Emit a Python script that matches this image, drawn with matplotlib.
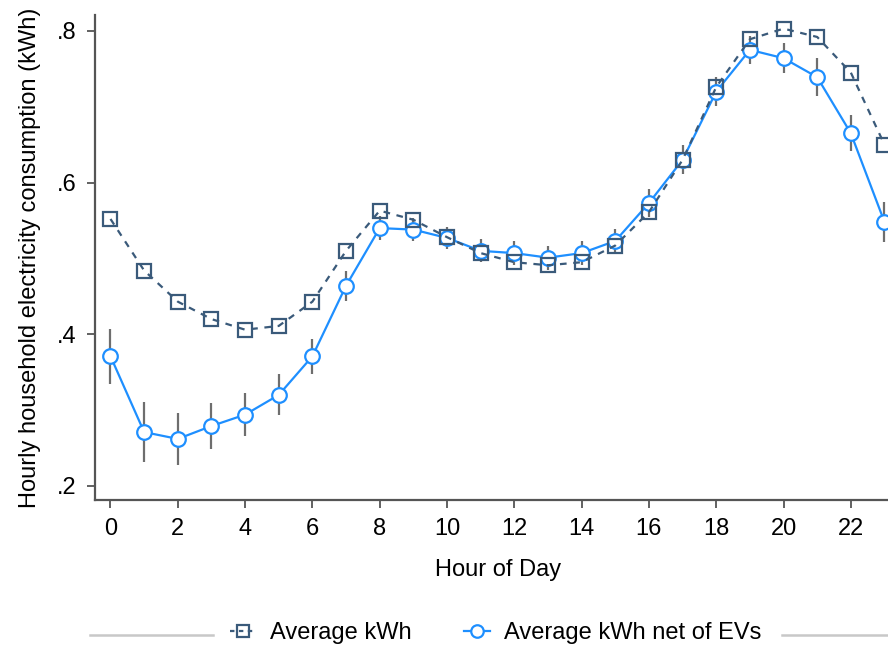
import numpy as np
import matplotlib.pyplot as plt
from matplotlib.lines import Line2D

plt.rcParams['font.family'] = ['Liberation Sans', 'DejaVu Sans']

### data
hours = list(range(24))
avg_kwh = [0.552, 0.484, 0.443, 0.420, 0.406, 0.411, 0.443, 0.510,
           0.563, 0.551, 0.528, 0.507, 0.495, 0.491, 0.495, 0.517,
           0.561, 0.630, 0.726, 0.789, 0.803, 0.792, 0.745, 0.650]
net_kwh = [0.371, 0.271, 0.262, 0.279, 0.294, 0.320, 0.371, 0.464,
           0.540, 0.538, 0.527, 0.510, 0.507, 0.501, 0.507, 0.523,
           0.573, 0.630, 0.720, 0.775, 0.764, 0.739, 0.665, 0.548]
net_ci = [0.036, 0.040, 0.034, 0.030, 0.028, 0.027, 0.023, 0.020,
          0.016, 0.015, 0.015, 0.015, 0.016, 0.016, 0.016, 0.016,
          0.018, 0.019, 0.019, 0.018, 0.020, 0.025, 0.024, 0.027]
yticks = [0.2, 0.4, 0.6, 0.8]
ytick_labels = ['.2', '.4', '.6', '.8']
xticks = list(range(0, 24, 2))

navy = '#3a5a7a'
blue = '#1e8fff'
fs = 17

fig = plt.figure(figsize=(8.88, 6.51), dpi=100)
ax = fig.add_axes([0.107, 0.232, 0.908, 0.745])

ax.errorbar(hours, net_kwh, yerr=net_ci, fmt='none', ecolor='#6e6e6e',
            elinewidth=1.6, capsize=0, zorder=2)
ax.plot(hours, net_kwh, color=blue, lw=1.6, marker='o', ms=10.5,
        mfc='white', mec=blue, mew=1.6, zorder=3)
ax.plot(hours, avg_kwh, color=navy, lw=1.6, ls=(0, (3, 3)), marker='s',
        ms=10.5, mfc='none', mec=navy, mew=1.6, zorder=4)

ax.set_xlim(-0.46, 23.5)
ax.set_ylim(0.1815, 0.821)
ax.set_xticks(xticks)
ax.set_yticks(yticks)
ax.set_yticklabels(ytick_labels)
ax.tick_params(labelsize=fs, length=6, width=1.3, color='#555555', pad=7)
for s in ['top', 'right']:
    ax.spines[s].set_visible(False)
for s in ['left', 'bottom']:
    ax.spines[s].set_color('#555555')
    ax.spines[s].set_linewidth(1.6)

ax.set_xlabel('Hour of Day', fontsize=fs, labelpad=14)
ax.set_ylabel('Hourly household electricity consumption (kWh)', fontsize=fs, labelpad=12)

### legend
h1 = Line2D([], [], color=navy, lw=1.6, ls=(0, (2, 2)), marker='s', ms=9,
            mfc='none', mec=navy, mew=1.6)
h2 = Line2D([], [], color=blue, lw=1.6, marker='o', ms=9, mfc='white',
            mec=blue, mew=1.6)
fig.legend([h1, h2], ['Average kWh', 'Average kWh net of EVs'], ncol=2,
           loc='center', bbox_to_anchor=(0.558, 1 - 633 / 651), frameon=False,
           fontsize=fs, handlelength=1.1, columnspacing=2.2, handletextpad=0.6)
fig.add_artist(Line2D([90 / 888, 213 / 888], [1 - 635 / 651] * 2,
                      color='#c8c8c8', lw=1.8, transform=fig.transFigure))
fig.add_artist(Line2D([782 / 888, 1.0], [1 - 635 / 651] * 2,
                      color='#c8c8c8', lw=1.8, transform=fig.transFigure))

plt.savefig('out.png', dpi=100)
